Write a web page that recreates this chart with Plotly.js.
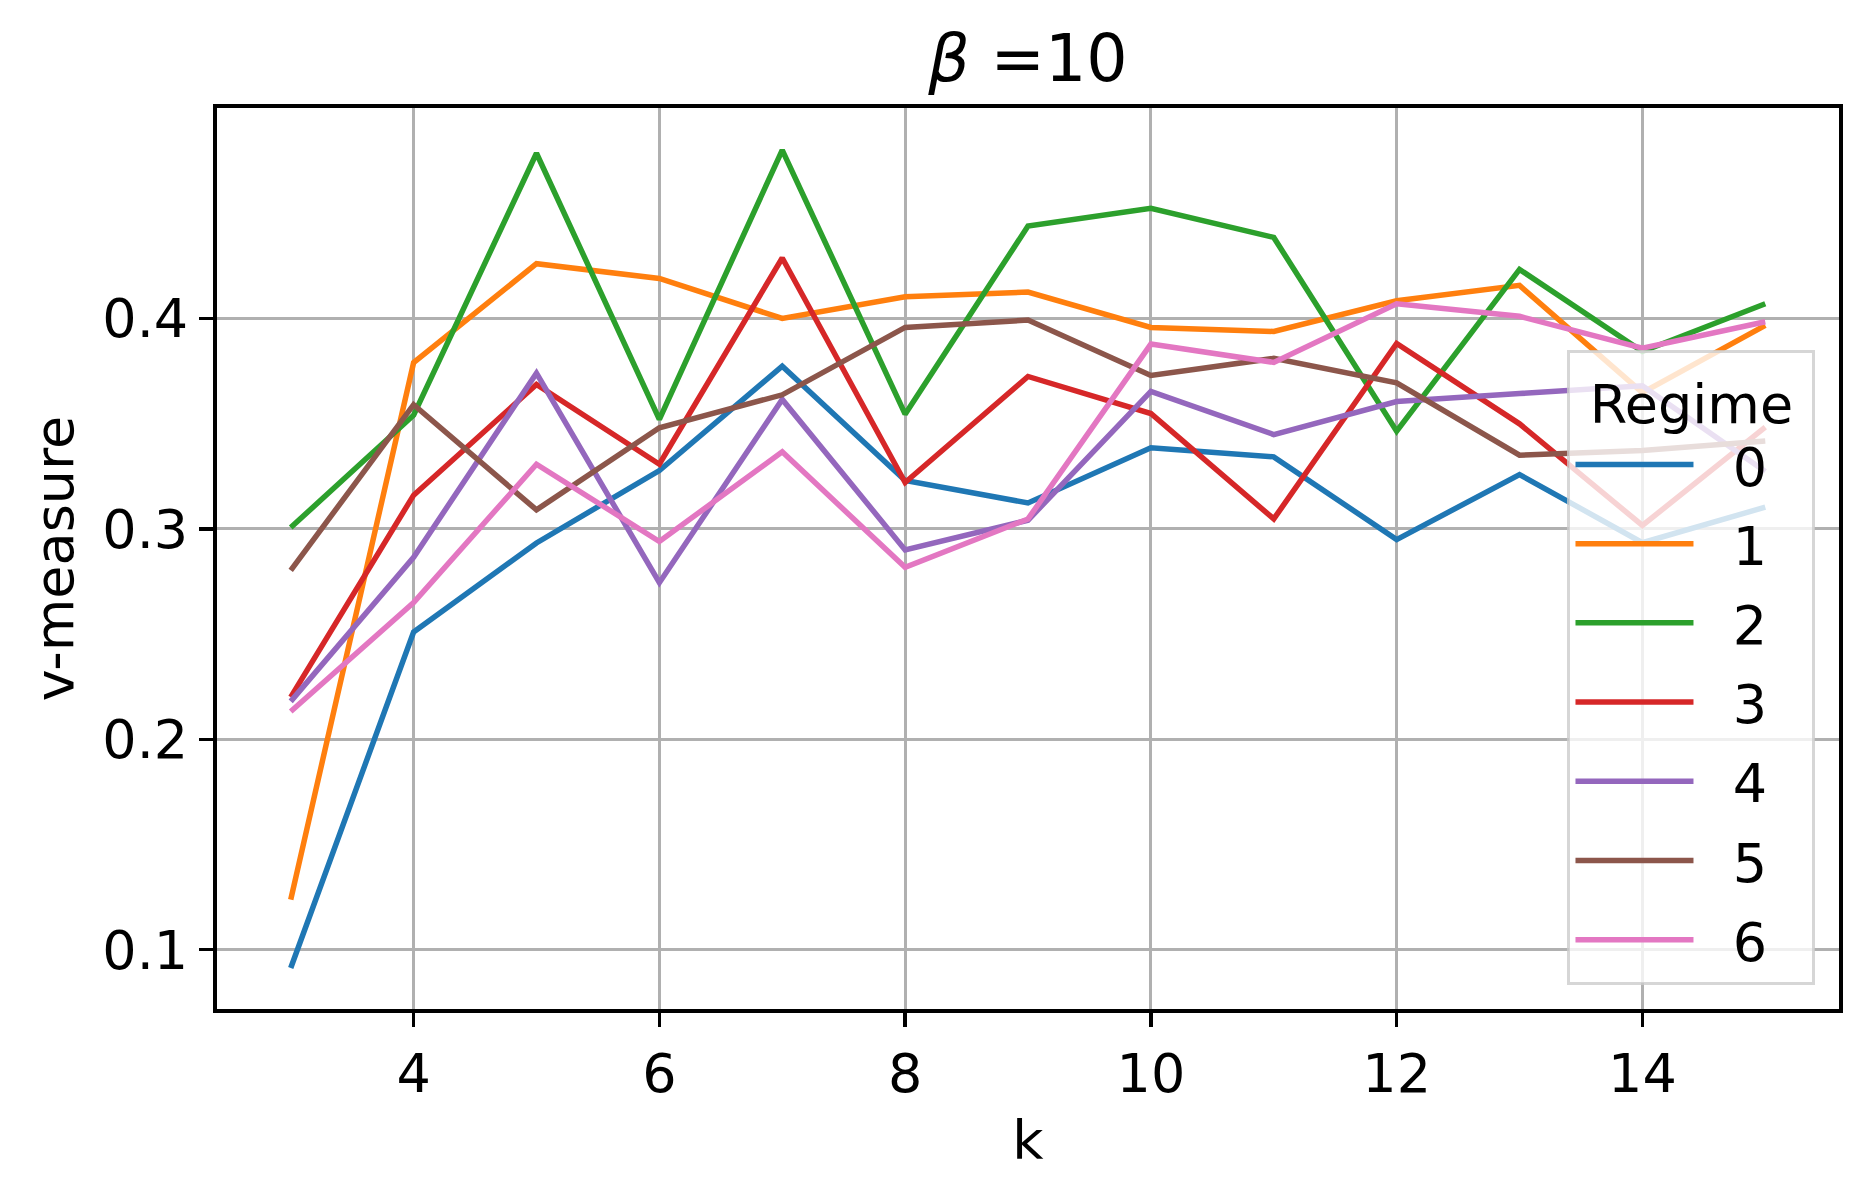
<!DOCTYPE html>
<html>
<head>
<meta charset="utf-8">
<script src="https://cdn.plot.ly/plotly-3.0.1.min.js"></script>
<style>html,body{margin:0;padding:0;background:#fff;}#chart{width:1871px;height:1192px;}</style>
</head>
<body>
<div id="chart"></div>
<script>
const kValues = [3, 4, 5, 6, 7, 8, 9, 10, 11, 12, 13, 14, 15];
const regimeNames = ["0", "1", "2", "3", "4", "5", "6"];
const regime0 = [0.0913, 0.251, 0.2933, 0.3277, 0.3773, 0.323, 0.3123, 0.3385, 0.3342, 0.2949, 0.3258, 0.2934, 0.3103];
const regime1 = [0.1238, 0.379, 0.426, 0.419, 0.400, 0.4103, 0.4125, 0.3957, 0.3938, 0.4084, 0.4157, 0.3647, 0.3967];
const regime2 = [0.3006, 0.354, 0.4785, 0.352, 0.480, 0.3545, 0.4439, 0.4523, 0.4385, 0.3464, 0.4233, 0.3843, 0.407];
const regime3 = [0.220, 0.316, 0.3686, 0.3307, 0.4287, 0.322, 0.3724, 0.3548, 0.3047, 0.3881, 0.3499, 0.3016, 0.3483];
const regime4 = [0.218, 0.2865, 0.374, 0.2744, 0.3615, 0.290, 0.3041, 0.3653, 0.3448, 0.3605, 0.3643, 0.368, 0.3273];
const regime5 = [0.2803, 0.359, 0.309, 0.348, 0.3637, 0.3957, 0.3992, 0.3729, 0.381, 0.3694, 0.335, 0.3372, 0.3417];
const regime6 = [0.2132, 0.265, 0.3307, 0.294, 0.3366, 0.2817, 0.3047, 0.3878, 0.3791, 0.407, 0.401, 0.3859, 0.3984];
const xTicks = [4, 6, 8, 10, 12, 14];
const yTicks = [0.1, 0.2, 0.3, 0.4];
const colors = ["#1f77b4", "#ff7f0e", "#2ca02c", "#d62728", "#9467bd", "#8c564b", "#e377c2"];

const series = [regime0, regime1, regime2, regime3, regime4, regime5, regime6];
const traces = series.map((ys, i) => ({
  type: "scatter",
  mode: "lines",
  x: kValues,
  y: ys,
  name: "\u00a0\u00a0" + regimeNames[i],
  legendgroup: "g" + i,
  line: {color: colors[i], width: 5.5}
}));

const FONT = "DejaVu Sans, sans-serif";
const layout = {
  width: 1871,
  height: 1192,
  paper_bgcolor: "#ffffff",
  plot_bgcolor: "#ffffff",
  margin: {l: 217, r: 32, t: 108, b: 183},
  font: {family: FONT, size: 54, color: "#000000"},
  title: {
    text: "<i>β</i> =10",
    font: {family: FONT, size: 65, color: "#000000"},
    x: 0.5, xref: "paper", xanchor: "center",
    y: 0.951, yref: "container", yanchor: "middle"
  },
  xaxis: {
    range: [2.4, 15.6],
    tickvals: xTicks,
    ticktext: xTicks.map(String),
    ticks: "outside", ticklen: 14, tickwidth: 3.5, tickcolor: "#000",
    showline: true, linecolor: "#000", linewidth: 4, mirror: true,
    showgrid: true, gridcolor: "#b0b0b0", gridwidth: 3,
    zeroline: false,
    tickfont: {family: FONT, size: 54, color: "#000"},
    title: {text: "k", font: {family: FONT, size: 54, color: "#000"}, standoff: 18}
  },
  yaxis: {
    range: [0.0718, 0.5],
    tickvals: yTicks,
    ticktext: yTicks.map(v => v.toFixed(1)),
    ticks: "outside", ticklen: 14, tickwidth: 3.5, tickcolor: "#000",
    showline: true, linecolor: "#000", linewidth: 4, mirror: true,
    showgrid: true, gridcolor: "#b0b0b0", gridwidth: 3,
    zeroline: false,
    tickfont: {family: FONT, size: 54, color: "#000"},
    title: {text: "v-measure", font: {family: FONT, size: 54, color: "#000"}, standoff: 12}
  },
  showlegend: true,
  legend: {
    x: 0.9855, xanchor: "right", xref: "paper",
    y: 0.027, yanchor: "bottom", yref: "paper",
    bgcolor: "rgba(255,255,255,0.8)",
    bordercolor: "rgba(204,204,204,0.8)",
    borderwidth: 3,
    font: {family: FONT, size: 54, color: "#000"},
    title: {text: "\u00a0Regime\u00a0", side: "top center", font: {family: FONT, size: 54, color: "#000"}},
    itemwidth: 118,
    tracegroupgap: 6,
    traceorder: "grouped"
  }
};

Plotly.newPlot("chart", traces, layout, {displayModeBar: false, staticPlot: true});
</script>
</body>
</html>
